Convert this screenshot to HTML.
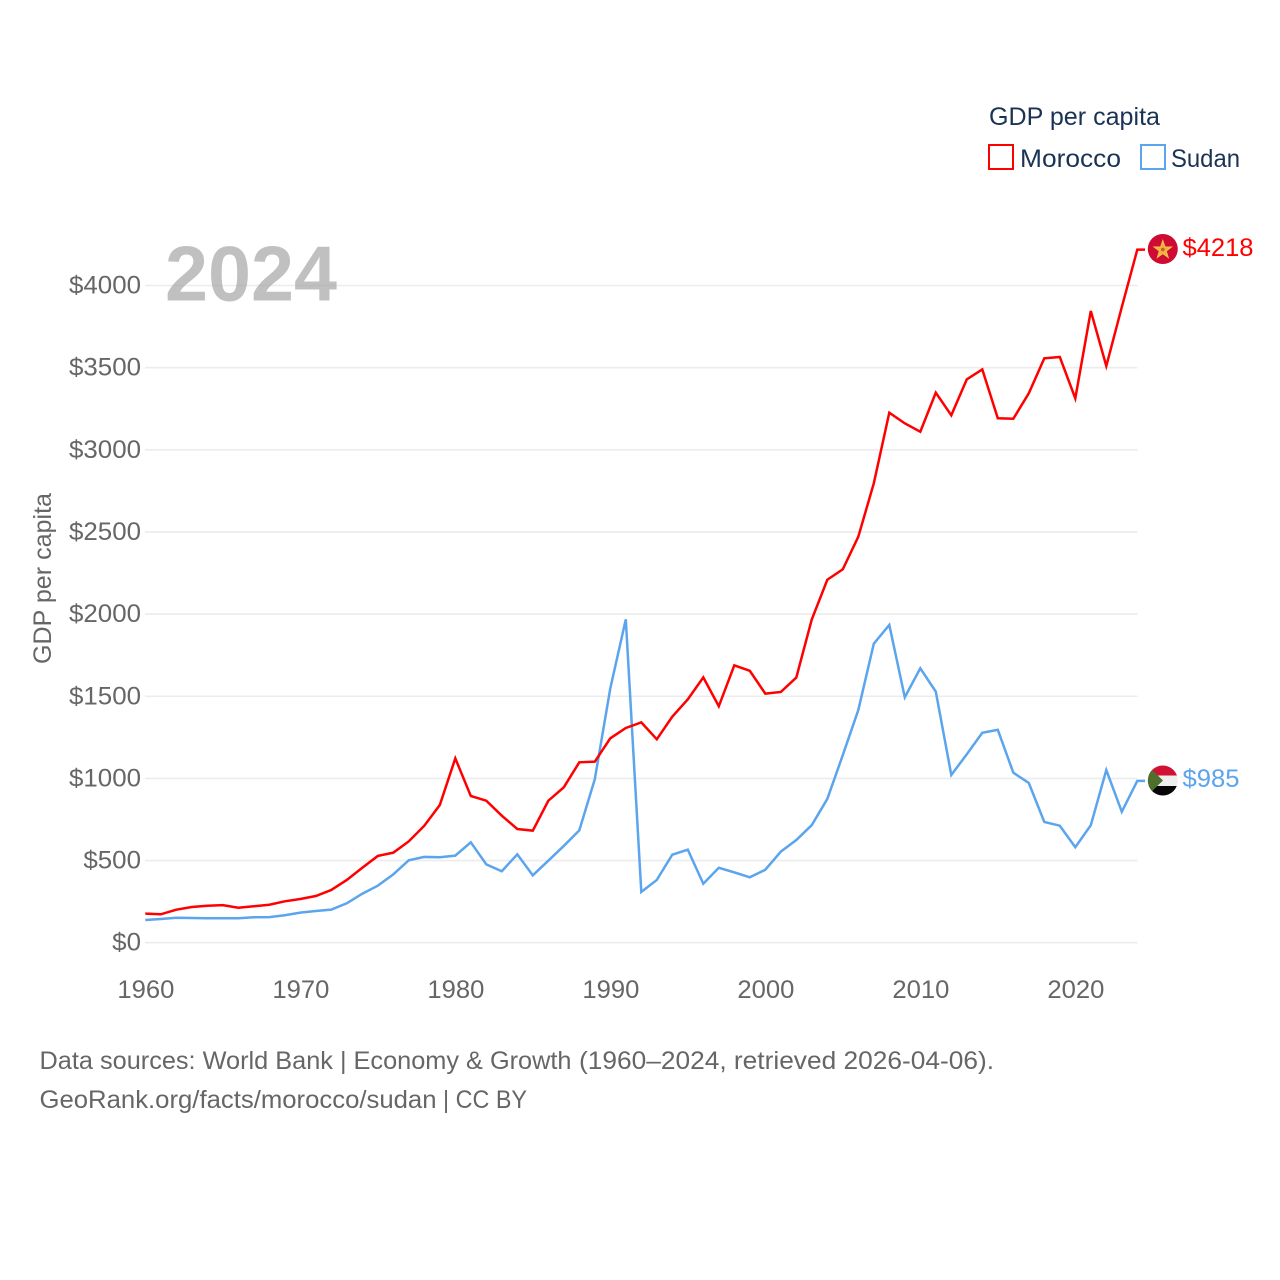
<!DOCTYPE html>
<html lang="en">
<head>
<meta charset="utf-8">
<title>GDP per capita: Morocco and Sudan</title>
<style>
html,body{margin:0;padding:0;background:#fff;width:1280px;height:1280px;overflow:hidden}
svg{display:block}
text{font-family:"Liberation Sans",sans-serif}
</style>
</head>
<body>
<svg id="chart" xmlns="http://www.w3.org/2000/svg" width="1280" height="1280" viewBox="0 0 1280 1280">
  <rect x="0" y="0" width="1280" height="1280" fill="#fff"/>
  <g id="grid"></g>
  <g id="yticks"></g>
  <g id="xticks"></g>
  <text x="165" y="300.5" font-size="78" font-weight="700" fill="#a8a8a8" fill-opacity="0.72" textLength="172" lengthAdjust="spacingAndGlyphs">2024</text>
  <text transform="translate(51,664) rotate(-90)" font-size="25" fill="#666" textLength="171" lengthAdjust="spacingAndGlyphs">GDP per capita</text>
  <g id="series"></g>

  <defs>
    <clipPath id="sudan-clip"><circle cx="1162.8" cy="780.5" r="15"/></clipPath>
  </defs>
  <g>
    <circle cx="1162.8" cy="249" r="15" fill="#cf0a33"/>
    <polygon points="1162.8,240.5 1165,247 1171.5,247 1166.2,251 1168.2,257.5 1162.8,253.5 1157.4,257.5 1159.4,251 1154.1,247 1160.6,247" fill="#f0b03c" stroke="#f5c54a" stroke-width="1"/>
    <circle cx="1162.8" cy="249.5" r="1.8" fill="#d8503a"/>
  </g>
  <g clip-path="url(#sudan-clip)">
    <rect x="1147" y="765" width="32" height="11" fill="#d21034"/>
    <rect x="1147" y="775.5" width="32" height="10.5" fill="#eeeeee"/>
    <rect x="1147" y="786" width="32" height="11" fill="#050505"/>
    <polygon points="1147,765 1163,780.5 1147,796" fill="#4f6f2d"/>
  </g>
  <text x="1182.5" y="256" font-size="25" fill="#ff0000" textLength="71" lengthAdjust="spacingAndGlyphs">$4218</text>
  <text x="1182.5" y="787" font-size="25" fill="#5ba4ee" textLength="57" lengthAdjust="spacingAndGlyphs">$985</text>

  <g>
    <text x="989" y="125" font-size="25" fill="#1a3354" textLength="171" lengthAdjust="spacingAndGlyphs">GDP per capita</text>
    <rect x="989" y="145" width="24" height="24" fill="none" stroke="#ff0000" stroke-width="2"/>
    <text x="1020" y="167" font-size="25" fill="#1a3354" textLength="101" lengthAdjust="spacingAndGlyphs">Morocco</text>
    <rect x="1141" y="145" width="24" height="24" fill="none" stroke="#5ba4ee" stroke-width="2"/>
    <text x="1171" y="167" font-size="25" fill="#1a3354" textLength="69" lengthAdjust="spacingAndGlyphs">Sudan</text>
  </g>

  <text x="39.5" y="1069" font-size="25" fill="#666" textLength="532" lengthAdjust="spacingAndGlyphs">Data sources: World Bank | Economy &amp; Growth</text>
  <text x="579" y="1069" font-size="25" fill="#666" textLength="415" lengthAdjust="spacingAndGlyphs">(1960–2024, retrieved 2026-04-06).</text>
  <text x="39.5" y="1108" font-size="25" fill="#666" textLength="397" lengthAdjust="spacingAndGlyphs">GeoRank.org/facts/morocco/sudan</text>
  <text x="443" y="1108" font-size="25" fill="#666" textLength="84" lengthAdjust="spacingAndGlyphs">| CC BY</text>
</svg>
<script>
const firstYear = 1960;
const yTickValues = [0, 500, 1000, 1500, 2000, 2500, 3000, 3500, 4000];
const xTickYears = [1960, 1970, 1980, 1990, 2000, 2010, 2020];
const moroccoValues = [177,173,201,217,225,229,213,222,231,252,266,284,321,382,456,528,548,617,712,838,1122,893,864,773,692,682,864,946,1098,1102,1244,1307,1341,1238,1376,1481,1615,1439,1688,1655,1516,1526,1614,1968,2209,2273,2471,2796,3226,3161,3110,3348,3210,3429,3489,3192,3189,3344,3557,3565,3313,3845,3510,3869,4218];
const sudanValues = [138,144,152,150,149,149,149,155,156,167,183,193,201,240,298,347,416,502,522,520,530,611,477,435,538,410,499,589,684,995,1548,1968,309,382,536,566,359,456,428,398,444,554,625,716,875,1142,1416,1820,1934,1494,1670,1528,1021,1147,1278,1296,1035,972,735,712,581,715,1051,797,985];

const NS = 'http://www.w3.org/2000/svg';
const xPos = function (year) { return 145.3 + (year - firstYear) * 15.5; };
const yPos = function (value) { return 942.7 - value * 0.1643; };

const gridGroup = document.getElementById('grid');
const yTickGroup = document.getElementById('yticks');
yTickValues.forEach(function (v) {
  const line = document.createElementNS(NS, 'line');
  
  
  line.setAttribute('x1', 145);
  line.setAttribute('x2', 1137.5);
  line.setAttribute('y1', yPos(v));
  line.setAttribute('y2', yPos(v));
  line.setAttribute('stroke', '#ececec');
  line.setAttribute('stroke-width', 1.6);
  gridGroup.appendChild(line);

  const label = document.createElementNS(NS, 'text');
  
  
  const str = '$' + v;
  label.textContent = str;
  label.setAttribute('x', 141);
  label.setAttribute('y', yPos(v) + 8);
  label.setAttribute('text-anchor', 'end');
  label.setAttribute('font-size', 25);
  label.setAttribute('fill', '#666');
  label.setAttribute('textLength', str.length * 14.4);
  label.setAttribute('lengthAdjust', 'spacingAndGlyphs');
  yTickGroup.appendChild(label);
});

const xTickGroup = document.getElementById('xticks');
xTickYears.forEach(function (yr) {
  const label = document.createElementNS(NS, 'text');
  
  
  label.textContent = String(yr);
  label.setAttribute('x', xPos(yr) + 0.6);
  label.setAttribute('y', 998);
  label.setAttribute('text-anchor', 'middle');
  label.setAttribute('font-size', 25);
  label.setAttribute('fill', '#666');
  label.setAttribute('textLength', 57);
  label.setAttribute('lengthAdjust', 'spacingAndGlyphs');
  xTickGroup.appendChild(label);
});

function pathFor(values) {
  let d = '';
  values.forEach(function (v, i) {
    d += (i === 0 ? 'M' : 'L') + xPos(firstYear + i).toFixed(2) + ' ' + yPos(v).toFixed(2) + ' ';
  });
  const last = values[values.length - 1];
  d += 'L1145 ' + yPos(last).toFixed(2);
  return d;
}

const seriesGroup = document.getElementById('series');

const sudanLine = document.createElementNS(NS, 'path');


sudanLine.setAttribute('d', pathFor(sudanValues));
sudanLine.setAttribute('fill', 'none');
sudanLine.setAttribute('stroke', '#5ba4ee');
sudanLine.setAttribute('stroke-width', 2.5);
seriesGroup.appendChild(sudanLine);

const moroccoLine = document.createElementNS(NS, 'path');


moroccoLine.setAttribute('d', pathFor(moroccoValues));
moroccoLine.setAttribute('fill', 'none');
moroccoLine.setAttribute('stroke', '#ff0000');
moroccoLine.setAttribute('stroke-width', 2.5);
seriesGroup.appendChild(moroccoLine);
</script>
</body>
</html>
